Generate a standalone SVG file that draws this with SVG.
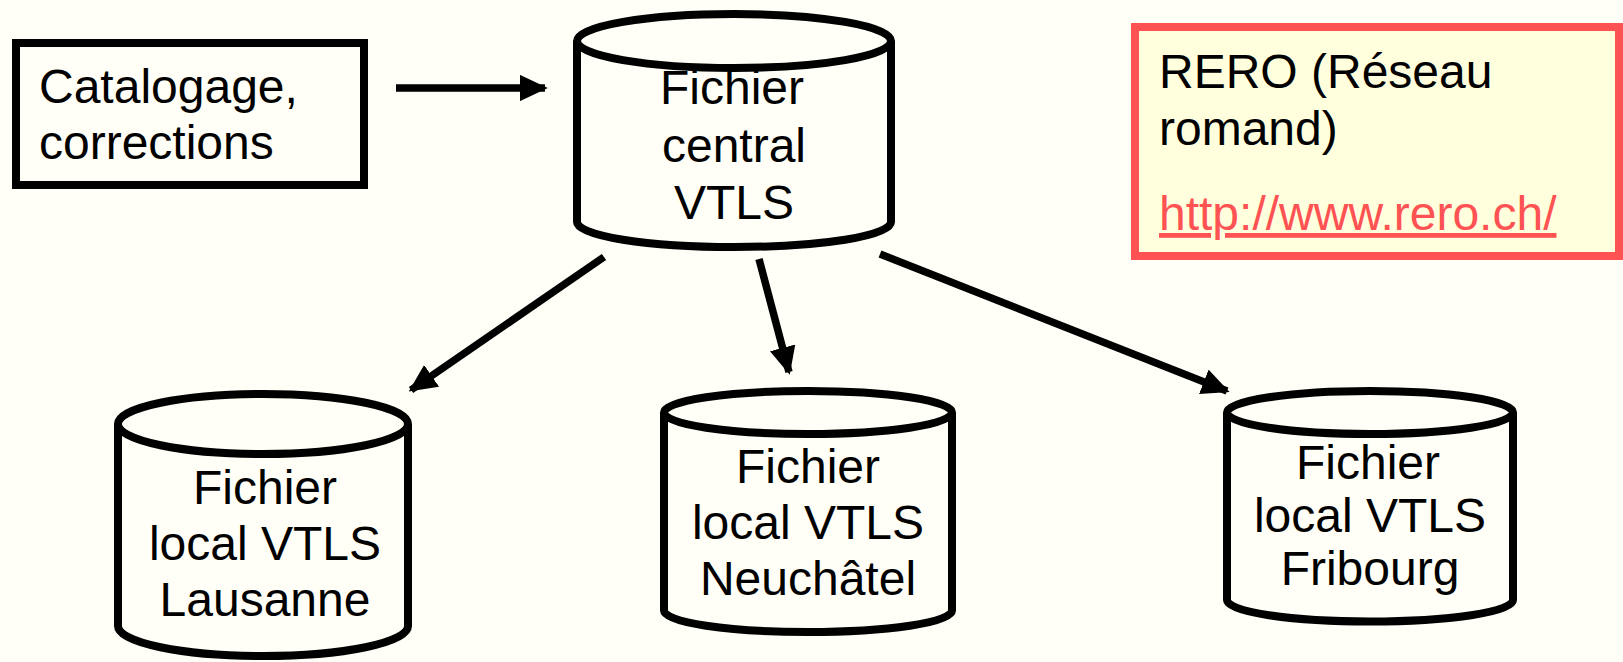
<svg xmlns="http://www.w3.org/2000/svg" width="1623" height="662" viewBox="0 0 1623 662">
<defs>
<style>
.bg{fill:#FFFFF7}
.shape{fill:#FFFFF7;stroke:#000;stroke-width:8}
.t{font-family:"Liberation Sans",Arial,sans-serif;font-size:48px;fill:#000}
.c{text-anchor:middle}
.conn{stroke:#000;stroke-width:7.5;fill:none}
</style>
<marker id="ah" viewBox="0 0 10 10" refX="9" refY="5" markerWidth="3.7" markerHeight="3.5" markerUnits="strokeWidth" orient="auto" preserveAspectRatio="none">
<path d="M0,0 L10,5 L0,10 Z" fill="#000"/>
</marker>
</defs>
<rect class="bg" x="0" y="0" width="1623" height="662"/>

<g id="catalogage">
<rect class="shape" x="16" y="43" width="348" height="142"/>
<text class="t" x="39" y="103">Catalogage,</text>
<text class="t" x="39" y="159">corrections</text>
</g>

<g id="central">
<path class="shape" d="M577,41 L577,222 A157,25 0 0 0 891,222 L891,41"/>
<ellipse class="shape" cx="734" cy="41" rx="157" ry="27"/>
<text class="t c" x="732" y="104">Fichier</text>
<text class="t c" x="734" y="162">central</text>
<text class="t c" x="734" y="219">VTLS</text>
</g>

<g id="rero">
<rect x="1135" y="27" width="484" height="229" fill="#FFFFDD" stroke="#FF5252" stroke-width="8"/>
<text class="t" x="1159" y="88">RERO (Réseau</text>
<text class="t" x="1159" y="145">romand)</text>
<text class="t" x="1159" y="230" style="fill:#FF5252" text-decoration="underline">http://www.rero.ch/</text>
</g>

<g id="lausanne">
<path class="shape" d="M118,424 L118,626 A145,30 0 0 0 408,626 L408,424"/>
<ellipse class="shape" cx="263" cy="424" rx="145" ry="30"/>
<text class="t c" x="265" y="504">Fichier</text>
<text class="t c" x="265" y="560">local VTLS</text>
<text class="t c" x="265" y="616">Lausanne</text>
</g>

<g id="neuchatel">
<path class="shape" d="M664,412.5 L664,610.5 A144,21.5 0 0 0 952,610.5 L952,412.5"/>
<ellipse class="shape" cx="808" cy="412.5" rx="144" ry="21.5"/>
<text class="t c" x="808" y="483">Fichier</text>
<text class="t c" x="808" y="539">local VTLS</text>
<text class="t c" x="808" y="595">Neuchâtel</text>
</g>

<g id="fribourg">
<path class="shape" d="M1227,412.5 L1227,600 A143,21.5 0 0 0 1513,600 L1513,412.5"/>
<ellipse class="shape" cx="1370" cy="412.5" rx="143" ry="21.5"/>
<text class="t c" x="1368" y="479">Fichier</text>
<text class="t c" x="1370" y="532">local VTLS</text>
<text class="t c" x="1370" y="585">Fribourg</text>
</g>

<g id="connectors">
<line class="conn" x1="396" y1="88" x2="545" y2="88" marker-end="url(#ah)"/>
<line class="conn" x1="604" y1="257" x2="411" y2="390" marker-end="url(#ah)"/>
<line class="conn" x1="759" y1="259" x2="789" y2="372" marker-end="url(#ah)"/>
<line class="conn" x1="880" y1="254" x2="1227" y2="391" marker-end="url(#ah)"/>
</g>
</svg>
